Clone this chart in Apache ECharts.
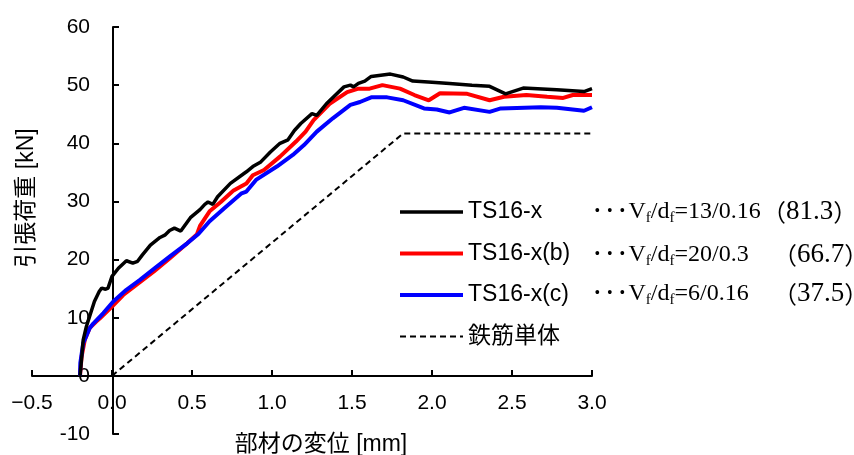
<!DOCTYPE html>
<html>
<head>
<meta charset="utf-8">
<script src="https://cdn.jsdelivr.net/npm/echarts@6/dist/echarts.min.js"></script>
<style>
  html, body { margin: 0; padding: 0; background: #fff; }
  #chart { width: 854px; height: 455px; }
</style>
</head>
<body>
<div id="chart"></div>
<script>
// Load–displacement curves: [displacement mm, load kN]
const ts16x = [
  [-0.2, 0], [-0.19, 3], [-0.18, 6.2], [-0.16, 8.5], [-0.14, 10.2], [-0.11, 12.8],
  [-0.08, 14.5], [-0.064, 15.1], [-0.04, 14.9], [-0.025, 15.1], [0, 17.1], [0.04, 18.5],
  [0.09, 19.8], [0.13, 19.4], [0.16, 19.7], [0.19, 20.8], [0.24, 22.5], [0.3, 23.8],
  [0.33, 24.2], [0.36, 25.0], [0.39, 25.4], [0.43, 24.9], [0.49, 27.2], [0.55, 28.6],
  [0.58, 29.5], [0.6, 29.9], [0.63, 29.5], [0.66, 30.8], [0.74, 33.1], [0.84, 35.1],
  [0.88, 36.0], [0.93, 36.8], [0.99, 38.5], [1.05, 40.0], [1.1, 40.6], [1.14, 42.2],
  [1.18, 43.4], [1.25, 45.1], [1.28, 44.8], [1.34, 46.8], [1.45, 49.7], [1.49, 50.0],
  [1.51, 49.7], [1.54, 50.3], [1.58, 50.7], [1.62, 51.5], [1.68, 51.7], [1.74, 51.9],
  [1.82, 51.4], [1.88, 50.7], [2.0, 50.5], [2.11, 50.3], [2.25, 50.0], [2.36, 49.8],
  [2.46, 48.5], [2.57, 49.5], [2.78, 49.2], [2.95, 48.9], [3.0, 49.4]
];
const ts16xb = [
  [-0.2, 0], [-0.19, 3.3], [-0.17, 6.2], [-0.14, 8.2], [-0.1, 9.3], [-0.075, 9.9],
  [0, 11.9], [0.07, 13.9], [0.15, 15.6], [0.26, 17.9], [0.36, 20.2], [0.47, 22.8],
  [0.53, 24.3], [0.55, 25.8], [0.61, 28.3], [0.68, 29.9], [0.74, 31.4], [0.76, 31.9],
  [0.84, 33.1], [0.88, 34.5], [0.95, 35.4], [1.05, 37.7], [1.15, 40.3], [1.21, 42.0],
  [1.26, 44.0], [1.36, 46.8], [1.47, 48.8], [1.54, 49.4], [1.61, 49.4], [1.69, 50.0],
  [1.8, 49.4], [1.89, 48.3], [1.98, 47.4], [2.05, 48.6], [2.22, 48.5], [2.36, 47.4],
  [2.45, 48.0], [2.59, 48.3], [2.72, 48.0], [2.82, 47.8], [2.88, 48.3], [3.0, 48.3]
];
const ts16xc = [
  [-0.2, 0], [-0.198, 2.2], [-0.18, 5.6], [-0.14, 8.2], [-0.117, 9.0], [-0.054, 10.8],
  [0.008, 12.8], [0.09, 14.8], [0.175, 16.5], [0.28, 18.8], [0.36, 20.5], [0.47, 22.8],
  [0.54, 24.4], [0.61, 26.6], [0.7, 28.8], [0.81, 31.4], [0.84, 31.7], [0.9, 33.7],
  [1.03, 36.0], [1.13, 38.0], [1.2, 39.7], [1.28, 42.0], [1.38, 44.3], [1.49, 46.6],
  [1.55, 47.1], [1.62, 47.9], [1.72, 47.9], [1.82, 47.4], [1.95, 46.0], [2.03, 45.8],
  [2.11, 45.3], [2.2, 46.1], [2.36, 45.4], [2.43, 46.0], [2.68, 46.2], [2.78, 46.1],
  [2.95, 45.6], [3.0, 46.2]
];
// bare reinforcing bar (bilinear)
const rebarOnly = [[0, 0], [1.82, 41.7], [3.0, 41.7]];

const seriesNames = ['TS16-x', 'TS16-x(b)', 'TS16-x(c)', '鉄筋単体'];
const fiberNotes = [
  { vf: '13', df: '0.16', ratio: '81.3' },
  { vf: '20', df: '0.3', ratio: '66.7' },
  { vf: '6', df: '0.16', ratio: '37.5' }
];

const SANS = "'Liberation Sans', Arial, 'Noto Sans CJK JP', sans-serif";
const SERIF = "'Liberation Serif', 'Times New Roman', serif";
const CJK = "'Noto Sans CJK JP', sans-serif";

const chart = echarts.init(document.getElementById('chart'), null, { renderer: 'canvas' });

// fiber ratio notes next to legend rows
const noteRowsY = [212, 255, 293.5];
const noteParenX = [762, 773, 773];
const noteGraphics = [];
fiberNotes.forEach((n, i) => {
  noteGraphics.push({
    type: 'text', x: 591, y: noteRowsY[i],
    style: {
      text: '{d|•}{d|•}{d|•}{t|V}{s|f}{t|/d}{s|f}{t|=' + n.vf + '/' + n.df + '}',
      verticalAlign: 'middle', align: 'left',
      rich: {
        d: { fontSize: 16, fontFamily: SERIF, fill: '#000', width: 12.5, align: 'center', lineHeight: 28 },
        t: { fontSize: 24, fontFamily: SERIF, fill: '#000', lineHeight: 28 },
        s: { fontSize: 15, fontFamily: SERIF, fill: '#000', lineHeight: 12, verticalAlign: 'bottom' }
      }
    }
  });
  noteGraphics.push({
    type: 'text', x: noteParenX[i], y: noteRowsY[i],
    style: {
      text: '{p|（}{t|' + n.ratio + '}{p|）}',
      verticalAlign: 'middle', align: 'left',
      rich: {
        p: { fontSize: 24, fontFamily: CJK, fill: '#000', lineHeight: 28 },
        t: { fontSize: 27, fontFamily: SERIF, fill: '#000', lineHeight: 28 }
      }
    }
  });
});

const option = {
  animation: false,
  backgroundColor: '#fff',
  grid: { left: 32, right: 262, top: 27, bottom: 21, containLabel: false, outerBoundsMode: 'none' },
  xAxis: {
    type: 'value', min: -0.5, max: 3.0, interval: 0.5,
    offset: -58,
    axisLine: { onZero: false, lineStyle: { color: '#000', width: 2 } },
    axisTick: { show: true, inside: true, length: 6, lineStyle: { color: '#000', width: 2 } },
    splitLine: { show: false },
    axisLabel: {
      margin: 17, color: '#000', fontSize: 21, fontFamily: SANS,
      showMinLabel: true, showMaxLabel: true,
      formatter: v => v.toFixed(1).replace('-', '\u2212')
    }
  },
  yAxis: {
    type: 'value', min: -10, max: 60, interval: 10,
    offset: -81,
    axisLine: { show: true, onZero: false, lineStyle: { color: '#000', width: 2 } },
    axisTick: { show: true, inside: true, length: 6, lineStyle: { color: '#000', width: 2 } },
    splitLine: { show: false },
    axisLabel: {
      margin: 23, color: '#000', fontSize: 21, fontFamily: SANS,
      showMinLabel: true, showMaxLabel: true
    }
  },
  legend: {
    orient: 'vertical', left: 398, top: 200, padding: 0,
    itemWidth: 63, itemHeight: 14, itemGap: 17.5,
    data: seriesNames,
    selectedMode: false,
    itemStyle: { opacity: 0 },
    lineStyle: { width: 'inherit' },
    textStyle: { fontSize: 23, fontFamily: SANS, color: '#000', lineHeight: 24 }
  },
  graphic: [
    {
      type: 'text', x: 27, y: 198, rotation: Math.PI / 2,
      style: { text: '引張荷重 [kN]', font: '23px ' + SANS, fill: '#000', align: 'center', verticalAlign: 'middle' }
    },
    {
      type: 'text', x: 321, y: 445,
      style: { text: '部材の変位 [mm]', font: '23px ' + SANS, fill: '#000', align: 'center', verticalAlign: 'middle' }
    }
  ].concat(noteGraphics),
  series: [
    {
      name: seriesNames[3], type: 'line', data: rebarOnly, symbol: 'none', z: 1,
      lineStyle: { color: '#000', width: 2, type: [6, 4] }, itemStyle: { color: '#000' }
    },
    {
      name: seriesNames[1], type: 'line', data: ts16xb, symbol: 'none', z: 2,
      lineStyle: { color: '#ff0000', width: 4 }, itemStyle: { color: '#ff0000' }
    },
    {
      name: seriesNames[2], type: 'line', data: ts16xc, symbol: 'none', z: 3,
      lineStyle: { color: '#0000ff', width: 4 }, itemStyle: { color: '#0000ff' }
    },
    {
      name: seriesNames[0], type: 'line', data: ts16x, symbol: 'none', z: 4,
      lineStyle: { color: '#000', width: 3.5 }, itemStyle: { color: '#000' }
    }
  ]
};
chart.setOption(option);
</script>
</body>
</html>
